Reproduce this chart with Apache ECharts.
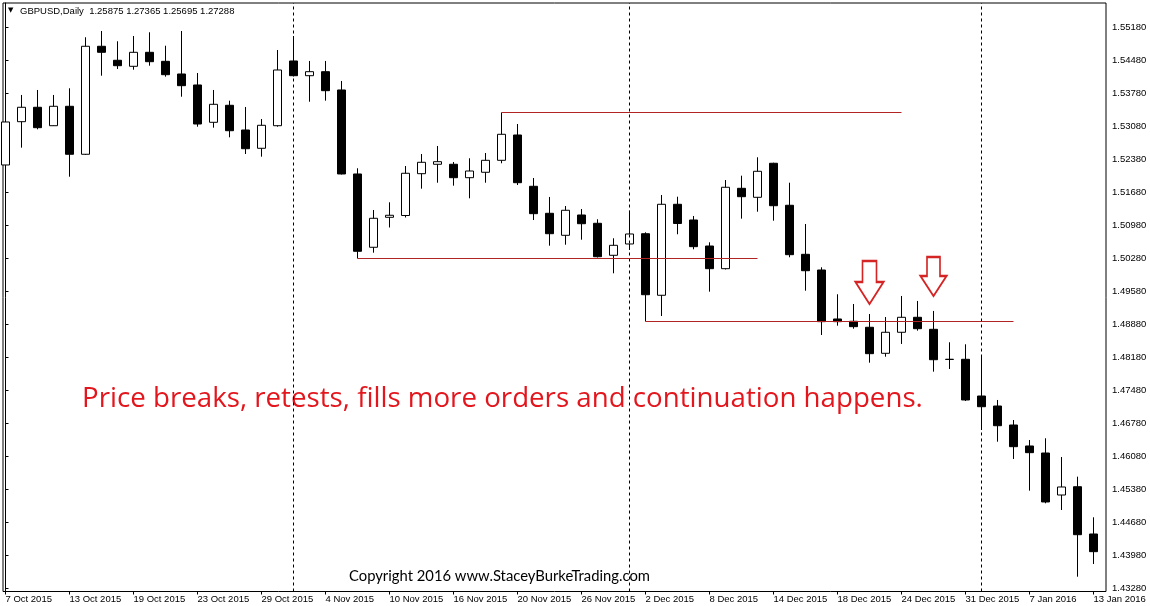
<!DOCTYPE html>
<html>
<head>
<meta charset="utf-8">
<title>GBPUSD Daily</title>
<script src="https://cdn.jsdelivr.net/npm/echarts@6/dist/echarts.min.js"></script>
<style>
  html, body { margin: 0; padding: 0; background: #fff; }
  #chart { width: 1150px; height: 606px; }
</style>
</head>
<body>
<div id="chart"></div>
<script>
// daily bars
const dates = [
  '7 Oct 2015', '8 Oct 2015', '9 Oct 2015', '12 Oct 2015', '13 Oct 2015', '14 Oct 2015', '15 Oct 2015',
  '16 Oct 2015', '19 Oct 2015', '20 Oct 2015', '21 Oct 2015', '22 Oct 2015', '23 Oct 2015', '26 Oct 2015',
  '27 Oct 2015', '28 Oct 2015', '29 Oct 2015', '30 Oct 2015',
  '2 Nov 2015', '3 Nov 2015', '4 Nov 2015', '5 Nov 2015', '6 Nov 2015', '9 Nov 2015', '10 Nov 2015',
  '11 Nov 2015', '12 Nov 2015', '13 Nov 2015', '16 Nov 2015', '17 Nov 2015', '18 Nov 2015', '19 Nov 2015',
  '20 Nov 2015', '23 Nov 2015', '24 Nov 2015', '25 Nov 2015', '26 Nov 2015', '27 Nov 2015', '30 Nov 2015',
  '1 Dec 2015', '2 Dec 2015', '3 Dec 2015', '4 Dec 2015', '7 Dec 2015', '8 Dec 2015', '9 Dec 2015',
  '10 Dec 2015', '11 Dec 2015', '14 Dec 2015', '15 Dec 2015', '16 Dec 2015', '17 Dec 2015', '18 Dec 2015',
  '21 Dec 2015', '22 Dec 2015', '23 Dec 2015', '24 Dec 2015', '28 Dec 2015', '29 Dec 2015', '30 Dec 2015',
  '31 Dec 2015',
  '4 Jan 2016', '5 Jan 2016', '6 Jan 2016', '7 Jan 2016', '8 Jan 2016', '11 Jan 2016', '12 Jan 2016',
  '13 Jan 2016'
];
const opens = [
  1.52253, 1.53171, 1.53477, 1.53086, 1.53498, 1.52480, 1.54771, 1.54474, 1.54346, 1.54643,
  1.54452, 1.54183, 1.53950, 1.53158, 1.53519, 1.52995, 1.52607, 1.53086, 1.54459, 1.54147,
  1.54232, 1.53844, 1.52062, 1.50507, 1.51143, 1.51181, 1.52068, 1.52268, 1.52268, 1.51983,
  1.52098, 1.52352, 1.52889, 1.51801, 1.51228, 1.50761, 1.51192, 1.51016, 1.50337, 1.50577,
  1.50795, 1.49489, 1.51419, 1.51086, 1.50534, 1.50053, 1.51758, 1.51567, 1.52289, 1.51398,
  1.50358, 1.50025, 1.48986, 1.48937, 1.48810, 1.48258, 1.48704, 1.49022, 1.48767, 1.48131,
  1.48131, 1.47352, 1.47140, 1.46737, 1.46292, 1.46143, 1.45252, 1.45428, 1.44425
];
const closes = [
  1.53165, 1.53477, 1.53044, 1.53498, 1.52480, 1.54771, 1.54643, 1.54359, 1.54643, 1.54444,
  1.54168, 1.53935, 1.53122, 1.53540, 1.52980, 1.52598, 1.53095, 1.54268, 1.54147, 1.54232,
  1.53829, 1.52062, 1.50422, 1.51122, 1.51186, 1.52077, 1.52310, 1.52323, 1.51983, 1.52125,
  1.52352, 1.52904, 1.51877, 1.51220, 1.50795, 1.51292, 1.51007, 1.50307, 1.50549, 1.50789,
  1.49501, 1.51419, 1.51012, 1.50520, 1.50053, 1.51780, 1.51580, 1.52119, 1.51389, 1.50350,
  1.50010, 1.48929, 1.48929, 1.48823, 1.48250, 1.48704, 1.49022, 1.48780, 1.48122, 1.48128,
  1.47268, 1.47125, 1.46722, 1.46277, 1.46150, 1.45104, 1.45422, 1.44410, 1.44050
];
const lows = [
  1.52231, 1.52620, 1.53010, 1.53080, 1.52004, 1.52465, 1.54147, 1.54289, 1.54274, 1.54359,
  1.54126, 1.53701, 1.53065, 1.53044, 1.52840, 1.52486, 1.52429, 1.53065, 1.54130, 1.53595,
  1.53617, 1.52051, 1.50270, 1.50392, 1.50927, 1.51139, 1.51750, 1.51877, 1.51814, 1.51546,
  1.51877, 1.52289, 1.51828, 1.51086, 1.50541, 1.50562, 1.50668, 1.50290, 1.49955, 1.50450,
  1.48933, 1.49049, 1.50783, 1.50464, 1.49565, 1.50036, 1.51114, 1.51262, 1.51071, 1.50295,
  1.49586, 1.48646, 1.48844, 1.48780, 1.48059, 1.48186, 1.48456, 1.48738, 1.47868, 1.47925,
  1.47246, 1.46631, 1.46383, 1.46016, 1.45344, 1.45076, 1.44934, 1.43519, 1.43789
];
const highs = [
  1.53419, 1.53738, 1.53844, 1.53738, 1.53880, 1.54962, 1.55095, 1.54877, 1.54989, 1.55068,
  1.54783, 1.55095, 1.54204, 1.53844, 1.53617, 1.53483, 1.53228, 1.54692, 1.54989, 1.54459,
  1.54459, 1.54035, 1.52183, 1.51298, 1.51461, 1.52231, 1.52486, 1.52656, 1.52316, 1.52395,
  1.52507, 1.53366, 1.53122, 1.51977, 1.51574, 1.51383, 1.51319, 1.51101, 1.50698, 1.51283,
  1.50825, 1.51616, 1.51580, 1.51171, 1.50613, 1.51934, 1.52026, 1.52416, 1.52301, 1.51877,
  1.51001, 1.50083, 1.49510, 1.49304, 1.49092, 1.49028, 1.49474, 1.49368, 1.49156, 1.48492,
  1.48449, 1.48201, 1.47268, 1.46843, 1.46419, 1.46455, 1.46058, 1.45641, 1.44779
];
// axis labels
const dateTicks = [
  '7 Oct 2015', '13 Oct 2015', '19 Oct 2015', '23 Oct 2015', '29 Oct 2015', '4 Nov 2015',
  '10 Nov 2015', '16 Nov 2015', '20 Nov 2015', '26 Nov 2015', '2 Dec 2015', '8 Dec 2015',
  '14 Dec 2015', '18 Dec 2015', '24 Dec 2015', '31 Dec 2015', '7 Jan 2016', '13 Jan 2016'
];
const priceTicks = [
  1.43280, 1.43980, 1.44680, 1.45380, 1.46080, 1.46780, 1.47480, 1.48180, 1.48880,
  1.49580, 1.50280, 1.50980, 1.51680, 1.52380, 1.53080, 1.53780, 1.54480, 1.55180
];
// hand drawn levels
const levelPrice = [1.53366, 1.50270, 1.48933];
const levelFrom = ['19 Nov 2015', '6 Nov 2015', '2 Dec 2015'];
const levelTo = ['24 Dec 2015', '11 Dec 2015', '6 Jan 2016'];
// arrows above these bars
const arrowDates = ['22 Dec 2015', '29 Dec 2015'];
const arrowPrice = [1.49760, 1.49887];

let candles = dates.map((d, i) => [i, opens[i], closes[i], lows[i], highs[i]]);
let tickIdx = dateTicks.map((d) => dates.indexOf(d));
// period separators: first bar of each month
let monthStarts = [];
dates.forEach((d, i) => {
  if (i > 0 && d.split(' ')[1] !== dates[i - 1].split(' ')[1]) monthStarts.push(i);
});

const uiFont = '"Liberation Sans", Arial, sans-serif';
const red = '#b02424';

let mycharts = echarts.init(document.getElementById('chart'));
let option = {
  animation: false,
  backgroundColor: '#fff',
  grid: {
    left: 3, right: 44, top: 3, bottom: 14.5,
    show: true, borderColor: '#000', borderWidth: 1, backgroundColor: '#fff',
    containLabel: false, outerBoundsMode: 'none'
  },
  xAxis: {
    type: 'value',
    min: -0.15625,
    max: 68.78125,
    axisLine: { show: false },
    splitLine: { show: false },
    axisTick: { show: true, length: 3, customValues: tickIdx, lineStyle: { color: '#000' } },
    axisLabel: {
      customValues: tickIdx,
      formatter: (v) => dates[Math.round(v)],
      align: 'left',
      margin: 3,
      color: '#000',
      fontSize: 9.5,
      fontFamily: uiFont
    }
  },
  yAxis: {
    type: 'value',
    position: 'right',
    min: 1.43205,
    max: 1.55689,
    axisLine: { show: true, lineStyle: { color: '#000' } },
    splitLine: { show: false },
    axisTick: { show: true, length: 3, customValues: priceTicks, lineStyle: { color: '#000' } },
    axisLabel: {
      customValues: priceTicks,
      formatter: (v) => v.toFixed(5),
      margin: 6,
      color: '#000',
      fontSize: 9.5,
      fontFamily: uiFont
    }
  },
  series: [
    {
      type: 'candlestick',
      data: candles,
      encode: { x: 0, y: [1, 2, 3, 4] },
      barWidth: 9,
      silent: true,
      itemStyle: {
        color: '#fff',
        color0: '#000',
        borderColor: '#000',
        borderColor0: '#000',
        borderColorDoji: '#000',
        borderWidth: 1
      },
      markLine: {
        silent: true,
        symbol: ['none', 'none'],
        label: { show: false },
        data: [
          ...monthStarts.map((i) => ({
            xAxis: i,
            lineStyle: { color: '#000', type: [3, 3], width: 1 }
          })),
          ...levelPrice.map((p, k) => [
            { coord: [dates.indexOf(levelFrom[k]), p], lineStyle: { color: red, type: 'solid', width: 1 } },
            { coord: [dates.indexOf(levelTo[k]), p] }
          ])
        ]
      },
      markPoint: {
        silent: true,
        symbol: 'path://M7,0 L21,0 L21,21 L28,21 L14,43 L0,21 L7,21 Z',
        itemStyle: { color: '#fff', borderColor: '#d42424', borderWidth: 2 },
        label: { show: false },
        data: [
          { coord: [dates.indexOf(arrowDates[0]), arrowPrice[0]], symbolSize: [28, 43] },
          { coord: [dates.indexOf(arrowDates[1]), arrowPrice[1]], symbolSize: [26, 39] }
        ]
      }
    }
  ],
  graphic: [
    {
      type: 'text', left: 8, top: 7, silent: true,
      style: { text: '▼', font: '7px "DejaVu Sans"', fill: '#000' }
    },
    {
      type: 'text', left: 20, top: 6, silent: true,
      style: { text: 'GBPUSD,Daily  1.25875 1.27365 1.25695 1.27288', font: '9.5px ' + uiFont, fill: '#000' }
    },
    {
      type: 'text', left: 82, top: 385, silent: true,
      style: {
        text: 'Price breaks, retests, fills more orders and continuation happens.',
        font: '27.7px "Open Sans", sans-serif',
        fill: '#e3161d'
      }
    },
    {
      type: 'text', left: 349, top: 569, silent: true,
      style: { text: 'Copyright 2016 www.StaceyBurkeTrading.com', font: '14.8px Lato, "Open Sans", sans-serif', fill: '#000' }
    }
  ]
};
mycharts.setOption(option);
</script>
</body>
</html>
